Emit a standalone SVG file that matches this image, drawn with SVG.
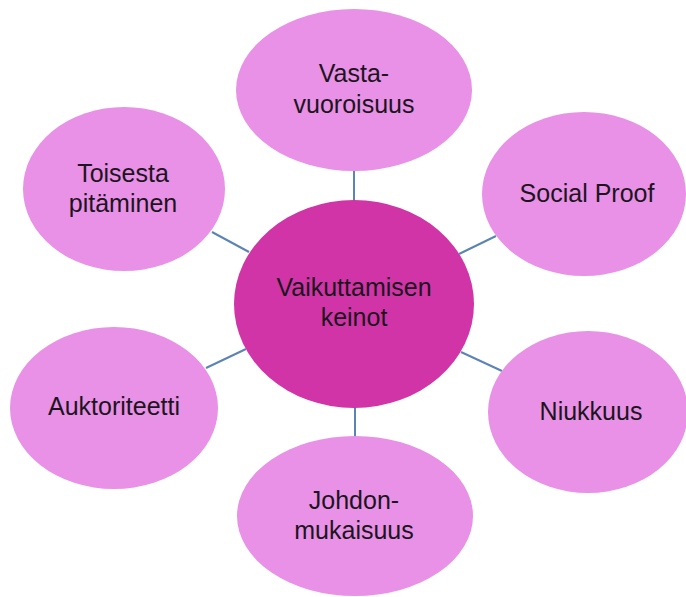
<svg xmlns="http://www.w3.org/2000/svg" width="686" height="597" viewBox="0 0 686 597">
<style>
.outer{fill:#e891e6}
.center{fill:#d034a6}
.lbl{font-family:"Liberation Sans",Arial,sans-serif;font-size:25px;fill:#1c1520;text-anchor:middle}
.conn line{stroke:#5b84b4;stroke-width:2}
</style>
<rect width="686" height="597" fill="#ffffff"/>
<g id="connectors" class="conn">
<line x1="354" y1="171" x2="354" y2="201"/>
<line x1="212" y1="232" x2="249" y2="252"/>
<line x1="459" y1="254" x2="496" y2="236"/>
<line x1="206" y1="368" x2="246" y2="349"/>
<line x1="461" y1="352" x2="502" y2="371"/>
<line x1="355" y1="406" x2="355" y2="436"/>
</g>
<g id="n-vasta">
<ellipse class="outer" cx="354" cy="90" rx="118" ry="81"/>
<text class="lbl" x="354" y="82">Vasta-</text>
<text class="lbl" x="354" y="113">vuoroisuus</text>
</g>
<g id="n-toisesta">
<ellipse class="outer" cx="124" cy="189" rx="101" ry="82"/>
<text class="lbl" x="123" y="182">Toisesta</text>
<text class="lbl" x="123" y="212">pitäminen</text>
</g>
<g id="n-social">
<ellipse class="outer" cx="584" cy="194" rx="102" ry="82"/>
<text class="lbl" x="587" y="202">Social Proof</text>
</g>
<g id="n-center">
<ellipse class="center" cx="354" cy="304" rx="120" ry="104"/>
<text class="lbl" x="354" y="296">Vaikuttamisen</text>
<text class="lbl" x="354" y="326">keinot</text>
</g>
<g id="n-auktoriteetti">
<ellipse class="outer" cx="114" cy="408" rx="104" ry="81"/>
<text class="lbl" x="114" y="415">Auktoriteetti</text>
</g>
<g id="n-niukkuus">
<ellipse class="outer" cx="588" cy="412" rx="100" ry="81"/>
<text class="lbl" x="591" y="420">Niukkuus</text>
</g>
<g id="n-johdon">
<ellipse class="outer" cx="355" cy="516" rx="118" ry="80"/>
<text class="lbl" x="354" y="509">Johdon-</text>
<text class="lbl" x="354" y="539">mukaisuus</text>
</g>
</svg>
